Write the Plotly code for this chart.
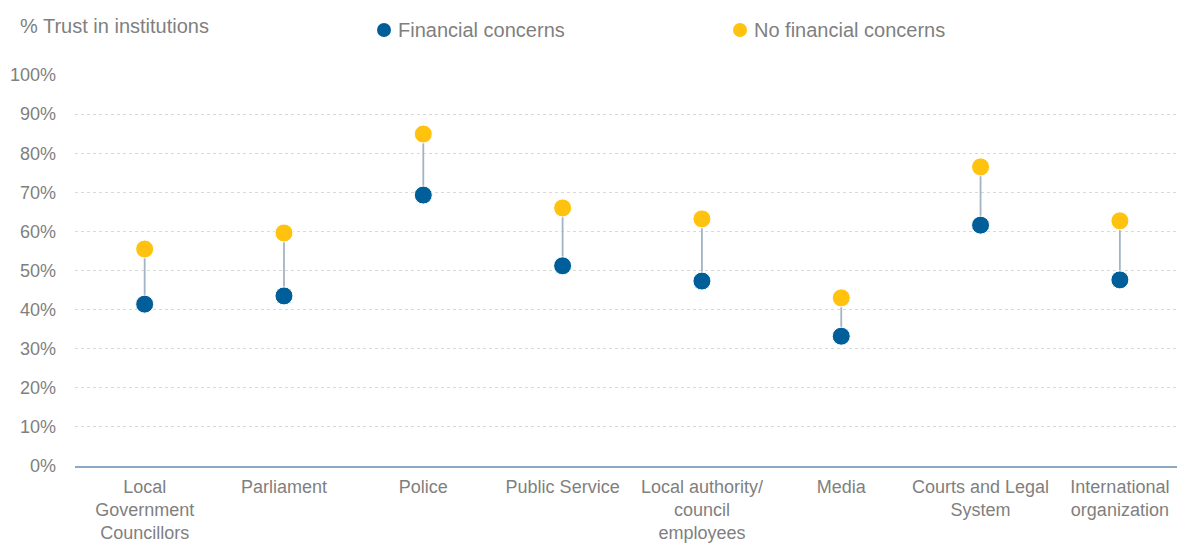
import plotly.graph_objects as go

# Trust in institutions by financial situation
categories = [
    "Local<br>Government<br>Councillors",
    "Parliament",
    "Police",
    "Public Service",
    "Local authority/<br>council<br>employees",
    "Media",
    "Courts and Legal<br>System",
    "International<br>organization",
]
financial_concerns = [41.4, 43.5, 69.3, 51.2, 47.3, 33.2, 61.6, 47.6]
no_financial_concerns = [55.5, 59.6, 84.9, 66.0, 63.2, 43.0, 76.5, 62.7]
y_ticks = list(range(0, 101, 10))
y_tick_labels = [f"{v}%" for v in y_ticks]

BLUE = "#005f99"
YELLOW = "#ffc20e"
GREY_TEXT = "#7f7f7f"
FONT = "Liberation Sans, Arial, sans-serif"

W, H = 1177, 544
ML, MR, MT, MB = 75, 0, 75, 78
PW, PH = W - ML - MR, H - MT - MB


def px_to_paper(px, py):
    """Convert figure pixel position to plot-area paper coordinates."""
    return (px - ML) / PW, (H - MB - py) / PH


x_pos = list(range(len(categories)))

# connector segments between the two values of each category
seg_x, seg_y = [], []
for i, (a, b) in enumerate(zip(financial_concerns, no_financial_concerns)):
    seg_x += [i, i, None]
    seg_y += [a, b, None]

fig = go.Figure()
fig.add_trace(go.Scatter(
    x=seg_x, y=seg_y, mode="lines",
    line=dict(color="#a3b3c4", width=1.8),
    hoverinfo="skip", showlegend=False,
))
fig.add_trace(go.Scatter(
    x=x_pos, y=no_financial_concerns, mode="markers",
    name="No financial concerns",
    marker=dict(color=YELLOW, size=18, line=dict(color="white", width=1)),
    showlegend=False,
))
fig.add_trace(go.Scatter(
    x=x_pos, y=financial_concerns, mode="markers",
    name="Financial concerns",
    marker=dict(color=BLUE, size=18, line=dict(color="white", width=1)),
    showlegend=False,
))

# legend drawn as dots with labels across the top
legend_items = [("Financial concerns", BLUE, 384), ("No financial concerns", YELLOW, 740)]
for label, color, px in legend_items:
    cx, cy = px_to_paper(px, 30)
    rx, ry = 7 / PW, 7 / PH
    fig.add_shape(type="circle", xref="paper", yref="paper",
                  x0=cx - rx, x1=cx + rx, y0=cy - ry, y1=cy + ry,
                  fillcolor=color, line=dict(width=0))
    tx, ty = px_to_paper(px + 12, 30)
    fig.add_annotation(x=tx, y=ty, xref="paper", yref="paper",
                       text=label, showarrow=False, xanchor="left", yanchor="middle",
                       font=dict(family=FONT, size=20, color=GREY_TEXT))

tx, ty = px_to_paper(18, 26)
fig.add_annotation(x=tx, y=ty, xref="paper", yref="paper",
                   text="% Trust in institutions", showarrow=False,
                   xanchor="left", yanchor="middle",
                   font=dict(family=FONT, size=20, color=GREY_TEXT))

fig.update_layout(
    width=W, height=H,
    margin=dict(l=ML, r=MR, t=MT, b=MB),
    paper_bgcolor="white", plot_bgcolor="white",
    font=dict(family=FONT, size=18, color=GREY_TEXT),
    xaxis=dict(
        range=[-0.5, 7.41], tickmode="array", tickvals=x_pos, ticktext=categories,
        showgrid=False, zeroline=False, showline=True, automargin=False,
        tickangle=0,
        linecolor="#8fa8c8", linewidth=2, ticks="", ticklabelstandoff=3,
        tickfont=dict(family=FONT, size=18, color=GREY_TEXT),
    ),
    yaxis=dict(
        range=[0, 100], tickmode="array", tickvals=y_ticks, ticktext=y_tick_labels,
        showgrid=True, gridcolor="#d9d9d9", griddash="dot", gridwidth=1,
        zeroline=False, showline=False, ticks="", ticklabelstandoff=18,
        automargin=False,
        tickfont=dict(family=FONT, size=18, color=GREY_TEXT),
    ),
)

fig.write_html("out.html")
